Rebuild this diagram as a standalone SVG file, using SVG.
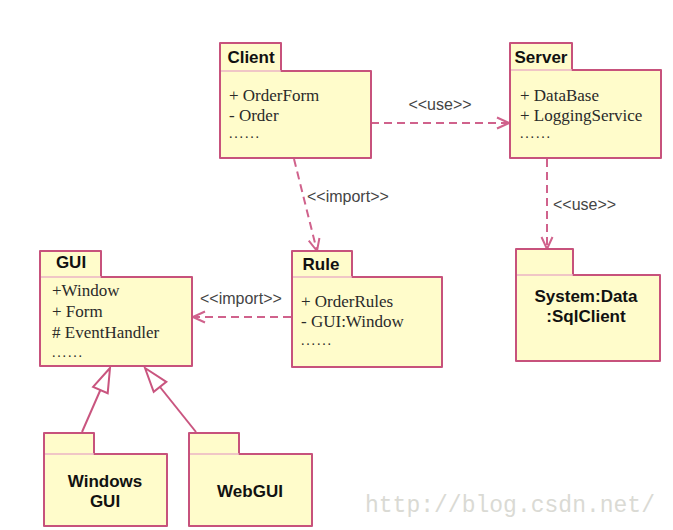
<svg xmlns="http://www.w3.org/2000/svg" width="673" height="530" viewBox="0 0 673 530">
<style>
.pkg{fill:#FFFCCB;stroke:#C7527C;stroke-width:2;stroke-linejoin:round}
.sep{stroke:#EBB5C5;stroke-width:1.5}
.title{font-family:"Liberation Sans",Arial,sans-serif;font-weight:bold;font-size:17px;fill:#111}
.body{font-family:"Liberation Serif","Times New Roman",serif;font-size:17px;fill:#2a2a2a}
.dots{font-family:"Liberation Serif","Times New Roman",serif;font-size:14px;fill:#2a2a2a}
.lbl{font-family:"Liberation Sans",Arial,sans-serif;font-size:16px;fill:#444}
.dep{fill:none;stroke:#D0628C;stroke-width:2;stroke-dasharray:8,5}
.gen{fill:none;stroke:#C9557F;stroke-width:2}
.tri{fill:#fff;stroke:#C9557F;stroke-width:2;stroke-linejoin:miter}
.wm{font-family:"Liberation Mono","Courier New",monospace;font-size:23px;fill:#DADAD4}
</style>
<defs>
<marker id="open" viewBox="0 0 14 14" refX="13" refY="7" markerWidth="14" markerHeight="14" markerUnits="userSpaceOnUse" orient="auto">
<path d="M1,1.5 L13,7 L1,12.5" fill="none" stroke="#D0628C" stroke-width="2" stroke-dasharray="none"/>
</marker>
</defs>
<rect width="673" height="530" fill="#fff"/>

<g id="connectors">
<line class="dep" x1="371" y1="123" x2="509" y2="123" marker-end="url(#open)"/>
<text class="lbl" x="440" y="110" text-anchor="middle">&lt;&lt;use&gt;&gt;</text>
<line class="dep" x1="294" y1="159" x2="317" y2="251" marker-end="url(#open)"/>
<text class="lbl" x="307" y="202">&lt;&lt;import&gt;&gt;</text>
<line class="dep" x1="547" y1="159" x2="547" y2="249" marker-end="url(#open)"/>
<text class="lbl" x="553" y="210">&lt;&lt;use&gt;&gt;</text>
<line class="dep" x1="291" y1="317" x2="193" y2="317" marker-end="url(#open)"/>
<text class="lbl" x="200" y="304">&lt;&lt;import&gt;&gt;</text>
<line class="gen" x1="82" y1="432" x2="100.4" y2="390"/>
<polygon class="tri" points="110,368 93.1,386.8 107.7,393.2"/>
<line class="gen" x1="196" y1="432" x2="160" y2="387"/>
<polygon class="tri" points="145,368 166.3,381.8 153.7,391.8"/>
</g>

<g id="client">
<path class="pkg" d="M220,43 H281 V71 H371 V158 H220 Z"/>
<line class="sep" x1="221" y1="71" x2="281" y2="71"/>
<text class="title" x="251" y="63" text-anchor="middle">Client</text>
<text class="body" x="229" y="101">+ OrderForm</text>
<text class="body" x="229" y="121">- Order</text>
<text class="dots" x="229" y="138" textLength="30" lengthAdjust="spacing">......</text>
</g>

<g id="server">
<path class="pkg" d="M510,43 H572 V70 H661 V158 H510 Z"/>
<line class="sep" x1="511" y1="70" x2="572" y2="70"/>
<text class="title" x="541" y="63" text-anchor="middle">Server</text>
<text class="body" x="520" y="101">+ DataBase</text>
<text class="body" x="520" y="121">+ LoggingService</text>
<text class="dots" x="520" y="138" textLength="30" lengthAdjust="spacing">......</text>
</g>

<g id="gui">
<path class="pkg" d="M40,251 H101 V277 H192 V366 H40 Z"/>
<line class="sep" x1="41" y1="277" x2="101" y2="277"/>
<text class="title" x="71" y="268" text-anchor="middle">GUI</text>
<text class="body" x="52" y="296">+Window</text>
<text class="body" x="52" y="317">+ Form</text>
<text class="body" x="52" y="338"># EventHandler</text>
<text class="dots" x="52" y="357" textLength="30" lengthAdjust="spacing">......</text>
</g>

<g id="rule">
<path class="pkg" d="M292,251 H352 V277 H442 V367 H292 Z"/>
<line class="sep" x1="293" y1="277" x2="352" y2="277"/>
<text class="title" x="321" y="270" text-anchor="middle">Rule</text>
<text class="body" x="301" y="307">+ OrderRules</text>
<text class="body" x="301" y="327">- GUI:Window</text>
<text class="dots" x="301" y="345" textLength="30" lengthAdjust="spacing">......</text>
</g>

<g id="sqlclient">
<path class="pkg" d="M516,249 H573 V275 H660 V361 H516 Z"/>
<line class="sep" x1="517" y1="275" x2="573" y2="275"/>
<text class="title" x="586" y="302" text-anchor="middle">System:Data</text>
<text class="title" x="586" y="322" text-anchor="middle">:SqlClient</text>
</g>

<g id="windowsgui">
<path class="pkg" d="M44,433 H94 V454 H167 V526 H44 Z"/>
<line class="sep" x1="45" y1="454" x2="94" y2="454"/>
<text class="title" x="105" y="487" text-anchor="middle">Windows</text>
<text class="title" x="105" y="507" text-anchor="middle">GUI</text>
</g>

<g id="webgui">
<path class="pkg" d="M189,433 H239 V454 H312 V526 H189 Z"/>
<line class="sep" x1="190" y1="454" x2="239" y2="454"/>
<text class="title" x="250" y="497" text-anchor="middle">WebGUI</text>
</g>

<text class="wm" x="365" y="512" textLength="290" lengthAdjust="spacingAndGlyphs">http://blog.csdn.net/</text>
</svg>
